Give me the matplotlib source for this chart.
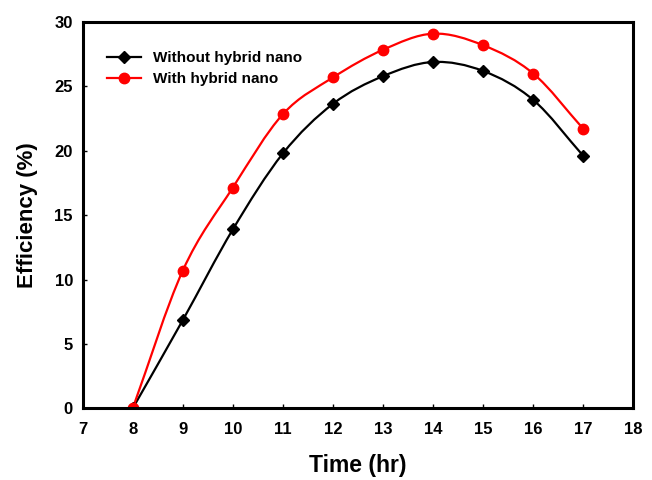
import numpy as np
import matplotlib
matplotlib.use("Agg")
from matplotlib import pyplot as plt
from matplotlib.path import Path
from matplotlib.patches import PathPatch

plt.rcParams['font.family'] = ['Liberation Sans', 'DejaVu Sans']
plt.rcParams['font.weight'] = 'bold'

hours = [8, 9, 10, 11, 12, 13, 14, 15, 16, 17]
without_nano = [0, 6.85, 13.9, 19.8, 23.65, 25.8, 26.9, 26.2, 23.95, 19.6]
with_nano = [0, 10.7, 17.15, 22.85, 25.7, 27.85, 29.1, 28.2, 26.0, 21.7]


def smooth_path(x, y):
    # bezier curve through the points (catmull-rom style tangents)
    x = np.asarray(x, float)
    y = np.asarray(y, float)
    n = len(x)
    dx = np.gradient(x)
    dy = np.gradient(y)
    verts = [(x[0], y[0])]
    codes = [Path.MOVETO]
    for i in range(n - 1):
        verts += [(x[i] + dx[i] / 3, y[i] + dy[i] / 3),
                  (x[i + 1] - dx[i + 1] / 3, y[i + 1] - dy[i + 1] / 3),
                  (x[i + 1], y[i + 1])]
        codes += [Path.CURVE4] * 3
    return Path(verts, codes)


fig = plt.figure(figsize=(6.52, 4.8), dpi=100)
ax = fig.add_axes([0.1268, 0.1494, 0.8447, 0.8046])

for ys, col, mk, ms, lab in [(without_nano, 'black', 'D', 6.5, 'Without hybrid nano'),
                             (with_nano, 'red', 'o', 7.5, 'With hybrid nano')]:
    ax.add_patch(PathPatch(smooth_path(hours, ys), fill=False, edgecolor=col, lw=1.6))
    ax.plot(hours, ys, ls='none', marker=mk, color=col, ms=ms)
    ax.plot([], [], color=col, lw=1.6, marker=mk, ms=ms, label=lab)

ax.set_xlim(7, 18)
ax.set_ylim(0, 30)
ax.set_xticks(range(7, 19))
ax.set_yticks(range(0, 31, 5))
ax.tick_params(axis='x', direction='in', length=3, width=1, labelsize=12, pad=10)
ax.tick_params(axis='y', direction='in', length=3, width=1, labelsize=12, pad=7)
for s in ax.spines.values():
    s.set_linewidth(2.2)

ax.set_xlabel('Time (hr)', fontsize=16.5, fontweight='bold', labelpad=12)
ax.set_ylabel('Efficiency (%)', fontsize=16, fontweight='bold', labelpad=12)

ax.legend(loc='upper left', bbox_to_anchor=(0.02, 0.96), frameon=False,
          fontsize=11, handlelength=2.2, handletextpad=0.8, labelspacing=0.45)

plt.savefig('out.png', dpi=100)
